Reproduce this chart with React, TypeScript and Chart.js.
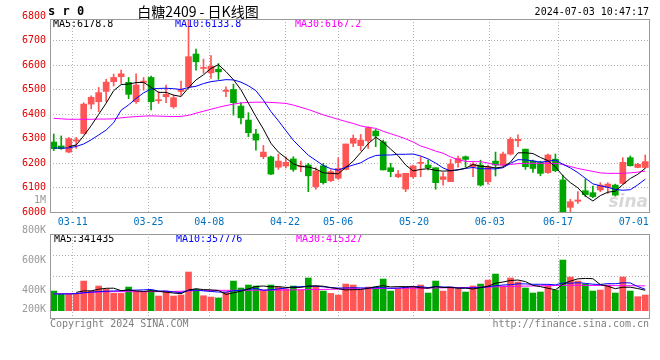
import React, { useEffect, useRef } from 'react';
import { Chart, registerables } from 'chart.js';

Chart.register(...registerables);

// ---------- data ----------
const dates = ['03-06','03-07','03-08','03-11','03-12','03-13','03-14','03-15','03-18','03-19','03-20','03-21','03-22','03-25','03-26','03-27','03-28','03-29','04-01','04-02','04-03','04-08','04-09','04-10','04-11','04-12','04-15','04-16','04-17','04-18','04-19','04-22','04-23','04-24','04-25','04-26','04-29','04-30','05-06','05-07','05-08','05-09','05-10','05-13','05-14','05-15','05-16','05-17','05-20','05-21','05-22','05-23','05-24','05-27','05-28','05-29','05-30','05-31','06-03','06-04','06-05','06-06','06-07','06-11','06-12','06-13','06-14','06-17','06-18','06-19','06-20','06-21','06-24','06-25','06-26','06-27','06-28','07-01','07-02','07-03'];

const opens = [6286,6270,6245,6290,6321,6441,6451,6493,6533,6553, 6530,6451,6530,6550,6455,6471,6430,6493,6512,6646, 6587,6569,6584,6493,6501,6433,6376,6319,6226,6225, 6183,6188,6217,6185,6192,6103,6189,6128,6138,6174, 6281,6271,6291,6331,6287,6181,6144,6094,6144,6199, 6192,6181,6133,6124,6202,6226,6185,6192,6124,6208, 6192,6237,6291,6257,6208,6203,6161,6216,6131,6019, 6044,6087,6079,6090,6101,6110,6117,6222,6182,6182];
const highs = [6319,6311,6305,6305,6447,6475,6509,6542,6564,6580, 6550,6565,6550,6556,6492,6519,6478,6535,6785,6666, 6625,6639,6607,6512,6523,6447,6406,6338,6272,6229, 6236,6226,6226,6208,6199,6181,6199,6172,6222,6278, 6315,6317,6349,6338,6294,6199,6169,6158,6192,6226, 6212,6181,6161,6215,6229,6229,6202,6212,6192,6245, 6245,6305,6315,6257,6212,6208,6237,6237,6151,6052, 6083,6135,6106,6120,6120,6114,6222,6229,6199,6233];
const lows = [6251,6256,6242,6260,6319,6422,6410,6451,6515,6526, 6463,6444,6498,6417,6444,6447,6424,6477,6505,6580, 6567,6546,6542,6471,6396,6360,6308,6253,6218,6153, 6174,6180,6166,6165,6083,6093,6114,6124,6133,6172, 6267,6251,6260,6267,6172,6144,6140,6083,6138,6144, 6172,6093,6110,6124,6183,6183,6144,6106,6114,6147, 6188,6233,6267,6174,6162,6148,6158,6165,5990,5997, 6035,6063,6059,6083,6076,6065,6114,6188,6181,6178];
const closes = [6259,6259,6300,6295,6441,6469,6488,6531,6550,6565, 6481,6519,6535,6451,6458,6481,6467,6501,6635,6614, 6590,6596,6573,6498,6447,6385,6324,6294,6245,6155, 6208,6203,6174,6188,6148,6168,6120,6165,6178,6278, 6301,6294,6345,6311,6172,6165,6155,6158,6188,6202, 6181,6120,6144,6196,6219,6215,6196,6110,6185,6192, 6237,6297,6297,6185,6178,6158,6233,6169,6000,6042, 6049,6071,6063,6110,6114,6069,6203,6189,6195,6206];

const ma5 = [null,null,6267,6274,6311,6353,6399,6445,6496,6521, 6523,6529,6530,6510,6489,6489,6478,6472,6508,6540, 6561,6587,6602,6574,6541,6500,6445,6390,6339,6281, 6245,6221,6197,6186,6184,6176,6160,6158,6156,6182, 6208,6243,6279,6306,6285,6257,6230,6192,6168,6174, 6177,6170,6167,6169,6172,6179,6194,6187,6185,6180, 6184,6204,6242,6242,6239,6223,6210,6185,6148,6120, 6099,6066,6045,6067,6081,6085,6112,6137,6154,6179];
const ma10 = [6262,6261,6262,6268,6278,6295,6315,6335,6365, 6416,6438,6464,6487,6503,6505,6506,6504,6501,6509, 6514,6525,6533,6537,6541,6540,6531,6516,6496,6457, 6411,6373,6333,6293,6262,6232,6211,6190,6177,6171, 6183,6192,6201,6219,6231,6233,6233,6236,6236,6237, 6229,6217,6200,6180,6168,6173,6178,6182,6177,6177, 6176,6181,6199,6214,6213,6209,6204,6207,6213,6195, 6180,6161,6138,6115,6107,6101,6092,6089,6091,6111,6134];
const ma30 = [6383,6381,6379,6379,6379,6379,6380,6380,6381,6385, 6388,6390,6392,6393,6392,6391,6390,6391,6395,6404, 6412,6420,6428,6435,6441,6446,6448,6449,6449,6448, 6446,6444,6437,6428,6419,6408,6397,6388,6379,6370, 6362,6352,6346,6342,6330,6320,6310,6299,6286,6270, 6260,6249,6240,6225,6214,6207,6206,6206,6200,6193, 6192,6194,6198,6199,6199,6199,6199,6199,6194,6186, 6178,6172,6166,6160,6158,6158,6158,6160,6163,6167];

const volumes = [328000,278000,278000,278000,495000,328000,412000,356000,289000,289000, 395000,317000,317000,340000,245000,328000,245000,262000,646000,356000, 250000,228000,212000,312000,495000,379000,429000,412000,345000,429000, 395000,362000,412000,345000,546000,412000,328000,289000,262000,445000, 429000,340000,395000,395000,529000,328000,362000,395000,395000,429000, 295000,495000,328000,395000,362000,312000,412000,445000,512000,612000, 412000,546000,479000,379000,295000,312000,412000,345000,846000,562000, 495000,445000,328000,345000,429000,295000,562000,328000,234000,262000];
const volMa5 = [null,null,null,306000, 331000,331000,358000,374000,376000,335000, 348000,329000,321000,332000,323000,309000,295000,284000,345000,367000, 352000,348000,338000,272000,299000,325000,365000,405000,412000,399000, 402000,389000,389000,389000,412000,415000,409000,384000,367000,347000, 351000,353000,374000,401000,418000,397000,402000,402000,402000,382000, 375000,402000,388000,388000,375000,378000,362000,385000,409000,459000, 479000,505000,512000,486000,422000,402000,375000,349000,442000,495000, 532000,539000,535000,435000,408000,368000,392000,392000,370000,341000];
const volMa10 = [280000,280000,280000,285000,300000,310000,320000,325000,330000, 333000,340000,344000,348000,354000,329000,329000,312000,303000,339000, 345000,331000,322000,311000,309000,333000,339000,357000,372000,342000, 349000,364000,377000,397000,401000,406000,409000,399000,387000,378000, 380000,383000,381000,379000,384000,383000,374000,378000,388000,402000, 400000,386000,402000,395000,395000,379000,377000,382000,387000,399000, 417000,429000,434000,449000,448000,441000,441000,440000,431000,464000, 459000,467000,457000,442000,439000,452000,450000,466000,464000,403000,358000];
const volMa30 = [284000,284000,285000,288000,295000,305000,312000,316000,318000,318000, 318000,318000,318000,318000,319000,320000,322000,325000,330000,335000, 338000,339000,340000,340000,340000,341000,341000,342000,342000,342000, 344000,346000,348000,350000,352000,354000,356000,358000,360000,362000, 364000,366000,368000,370000,372000,373000,374000,375000,376000,376000, 378000,380000,382000,384000,386000,388000,390000,393000,396000,399000, 402000,405000,408000,411000,414000,417000,419000,421000,423000,425000, 424000,423000,422000,421000,420000,419000,418000,417000,416000,415000];

const axisDates = ['03-11','03-25','04-08','04-22','05-06','05-20','06-03','06-17','07-01'];
const gridDates = ['03-11','03-25','04-08','04-22','05-06','05-20','06-03','06-17'];
const priceTicks = [6000,6100,6200,6300,6400,6500,6600,6700,6800];
const volumeTicks = [200000,400000,600000,800000,1000000];

const priceLegend = ['MA5:6178.8', 'MA10:6133.8', 'MA30:6167.2'];
const volumeLegend = ['MA5:341435', 'MA10:357776', 'MA30:415327'];
const symbolText = 's r 0';
const titleText = '白糖2409 - 日K线图';
const timeText = '2024-07-03 10:47:17';
const copyrightText = 'Copyright 2024 SINA.COM';
const urlText = 'http://finance.sina.com.cn';

// ---------- styles ----------
const MONO = '"DejaVu Sans Mono", "Liberation Mono", monospace';
const UP = '#ff5555';
const DOWN = '#00a600';
const GRID = '#b4b4b4';
const FRAME = '#999999';
const LEGEND_COLORS = ['#000000', '#0000ff', '#ff00ff'];
const LEGEND_X = [53, 175, 295];

const candleColors = closes.map((c, i) => (c >= opens[i] ? UP : DOWN));

const volTickLabel = (v: any) => (v >= 1000000 ? `${v / 1000000}M` : `${v / 1000}K`);

const framePlugin = {
  id: 'frame',
  afterDraw(chart: any) {
    const { ctx, chartArea: a } = chart;
    ctx.save();
    ctx.strokeStyle = FRAME;
    ctx.lineWidth = 1;
    const x0 = Math.floor(a.left) + 0.5;
    const x1 = Math.floor(a.right) + 0.5;
    const y0 = Math.floor(a.top) + 0.5;
    const y1 = Math.floor(a.bottom) + 0.5;
    ctx.strokeRect(x0, y0, x1 - x0, y1 - y0);
    ctx.restore();
  },
};

const dateGridColor = (ctx: any) =>
  ctx.index !== undefined && gridDates.includes(dates[ctx.index]) ? GRID : 'rgba(0,0,0,0)';

const priceTextPlugin = {
  id: 'priceText',
  beforeDatasetsDraw(chart: any) {
    const { ctx } = chart;
    ctx.save();
    ctx.font = 'italic bold 17px "DejaVu Sans", sans-serif';
    ctx.fillStyle = 'rgba(200,200,200,0.7)';
    ctx.textAlign = 'right';
    ctx.textBaseline = 'alphabetic';
    ctx.fillText('sina', 648, 207);
    ctx.restore();
  },
  afterDraw(chart: any) {
    const { ctx } = chart;
    ctx.save();
    ctx.textBaseline = 'middle';
    ctx.fillStyle = '#000';
    ctx.textAlign = 'left';
    ctx.font = `bold 12px ${MONO}`;
    ctx.fillText(symbolText, 48, 12);
    ctx.font = '14px "Noto Sans CJK SC", sans-serif';
    ctx.textAlign = 'center';
    ctx.fillText(titleText, 198, 12);
    ctx.font = `10px ${MONO}`;
    ctx.textAlign = 'right';
    ctx.fillText(timeText, 649, 12);
    ctx.textAlign = 'left';
    priceLegend.forEach((t, i) => {
      ctx.fillStyle = LEGEND_COLORS[i];
      ctx.fillText(t, LEGEND_X[i], 24);
    });
    ctx.restore();
  },
};

const volumeTextPlugin = {
  id: 'volumeText',
  afterDraw(chart: any) {
    const { ctx } = chart;
    ctx.save();
    ctx.textBaseline = 'middle';
    ctx.font = `10px ${MONO}`;
    ctx.textAlign = 'left';
    volumeLegend.forEach((t, i) => {
      ctx.fillStyle = LEGEND_COLORS[i];
      ctx.fillText(t, LEGEND_X[i] + 1, 239);
    });
    ctx.fillStyle = '#808080';
    ctx.fillText(copyrightText, 50, 324);
    ctx.textAlign = 'right';
    ctx.fillText(urlText, 649, 324);
    ctx.restore();
  },
};

function lineDs(data: (number | null)[], color: string, yAxisID: string) {
  return {
    type: 'line' as const,
    data,
    borderColor: color,
    borderWidth: 1,
    pointRadius: 0,
    tension: 0,
    fill: false,
    xAxisID: 'x',
    yAxisID,
    order: 0,
  };
}

function priceConfig(): any {
  return {
    type: 'bar',
    data: {
      labels: dates,
      datasets: [
        {
          type: 'bar',
          data: lows.map((l, i) => [l, highs[i]]),
          backgroundColor: candleColors,
          barThickness: 1,
          grouped: false,
          borderWidth: 0,
          xAxisID: 'x',
          yAxisID: 'y',
          order: 2,
        },
        {
          type: 'bar',
          data: opens.map((o, i) => [o, closes[i]]),
          backgroundColor: candleColors,
          barThickness: 6,
          minBarLength: 1,
          grouped: false,
          borderWidth: 0,
          xAxisID: 'x',
          yAxisID: 'y',
          order: 1,
        },
        lineDs(ma5, '#000000', 'y'),
        lineDs(ma10, '#0000ff', 'y'),
        lineDs(ma30, '#ff00ff', 'y'),
      ],
    },
    options: {
      responsive: false,
      animation: false,
      devicePixelRatio: 1,
      events: [],
      layout: { autoPadding: false, padding: { top: 19, right: 11, bottom: 130, left: 0 } },
      plugins: { legend: { display: false }, tooltip: { enabled: false } },
      scales: {
        x: { type: 'category', offset: true, display: false, grid: { offset: true, display: false } },
        xg: {
          type: 'category',
          position: 'bottom',
          labels: dates,
          offset: false,
          afterFit: (s: any) => { s.height = 18; },
          grid: { offset: false, color: dateGridColor, drawTicks: false, lineWidth: 1 },
          border: { display: false, dash: [1, 2] },
          ticks: {
            autoSkip: false,
            maxRotation: 0,
            minRotation: 0,
            padding: 4,
            color: '#0070c0',
            font: { family: MONO, size: 10 },
            callback: (_v: any, i: number) => (axisDates.includes(dates[i]) ? dates[i] : ''),
          },
        },
        y: {
          type: 'linear',
          position: 'left',
          min: 6000,
          max: 6789,
          afterBuildTicks: (s: any) => { s.ticks = priceTicks.map((v) => ({ value: v })); },
          afterFit: (s: any) => { s.width = 50; },
          grid: {
            color: (ctx: any) => (ctx.tick && ctx.tick.value > 6000 && ctx.tick.value < 6789 ? GRID : 'rgba(0,0,0,0)'),
            drawTicks: false,
            lineWidth: 1,
          },
          border: { display: false, dash: [1, 2] },
          ticks: {
            autoSkip: false,
            padding: 4,
            color: '#e00000',
            font: { family: MONO, size: 10 },
            callback: (v: any) => String(v),
          },
        },
      },
    },
    plugins: [priceTextPlugin, framePlugin],
  };
}

function volumeConfig(): any {
  return {
    type: 'bar',
    data: {
      labels: dates,
      datasets: [
        {
          type: 'bar',
          data: volumes,
          backgroundColor: candleColors,
          barThickness: 6,
          grouped: false,
          borderWidth: 0,
          xAxisID: 'x',
          yAxisID: 'yv',
          order: 1,
        },
        lineDs(volMa5, '#000000', 'yv'),
        lineDs(volMa10, '#0000ff', 'yv'),
        lineDs(volMa30, '#ff00ff', 'yv'),
      ],
    },
    options: {
      responsive: false,
      animation: false,
      devicePixelRatio: 1,
      events: [],
      layout: { autoPadding: false, padding: { top: 234, right: 11, bottom: 42, left: 0 } },
      plugins: { legend: { display: false }, tooltip: { enabled: false } },
      scales: {
        x: { type: 'category', offset: true, display: false, grid: { offset: true, display: false } },
        xg: {
          type: 'category',
          position: 'bottom',
          labels: dates,
          offset: false,
          afterFit: (s: any) => { s.height = 0; },
          grid: { offset: false, color: dateGridColor, drawTicks: false, lineWidth: 1 },
          border: { display: false, dash: [1, 2] },
          ticks: { display: false },
        },
        yv: {
          type: 'linear',
          position: 'left',
          weight: 0,
          min: -122000,
          max: 1281000,
          afterBuildTicks: (s: any) => {
            s.ticks = [1, 2, 3].map((k) => ({ value: s.min + ((s.max - s.min) * k) / 4 }));
          },
          afterFit: (s: any) => { s.width = 0; },
          grid: { color: GRID, drawTicks: false, lineWidth: 1 },
          border: { display: false, dash: [1, 2] },
          ticks: { display: false },
        },
        // label axis for the upper volume labels (400K .. 1M)
        yl: {
          type: 'linear',
          position: 'left',
          weight: 2,
          min: 213333,
          max: 773333,
          afterBuildTicks: (s: any) => { s.ticks = volumeTicks.slice(1).map((v) => ({ value: v })); },
          afterFit: (s: any) => { s.width = 50; },
          grid: { display: false, drawTicks: false },
          border: { display: false },
          ticks: {
            autoSkip: false,
            padding: 4,
            color: '#999999',
            font: { family: MONO, size: 10 },
            callback: volTickLabel,
          },
        },
        // label axis for the floor label (200K), which sits on the panel floor
        yl2: {
          type: 'linear',
          position: 'left',
          weight: 1,
          min: 100000,
          max: 1088000,
          afterBuildTicks: (s: any) => { s.ticks = volumeTicks.slice(0, 1).map((v) => ({ value: v })); },
          afterFit: (s: any) => { s.width = 0; },
          grid: { display: false, drawTicks: false },
          border: { display: false },
          ticks: {
            autoSkip: false,
            mirror: true,
            crossAlign: 'far',
            padding: -28,
            color: '#999999',
            font: { family: MONO, size: 10 },
            callback: volTickLabel,
          },
        },
      },
    },
    plugins: [volumeTextPlugin, framePlugin],
  };
}

export default function App() {
  const priceRef = useRef<HTMLCanvasElement>(null);
  const volRef = useRef<HTMLCanvasElement>(null);

  useEffect(() => {
    const c1 = new Chart(priceRef.current as HTMLCanvasElement, priceConfig());
    const c2 = new Chart(volRef.current as HTMLCanvasElement, volumeConfig());
    return () => {
      c1.destroy();
      c2.destroy();
    };
  }, []);

  return (
    <div style={{ position: 'fixed', left: 0, top: 0, width: 660, height: 360, background: '#ffffff' }}>
      <canvas ref={priceRef} width={660} height={360} style={{ position: 'absolute', left: 0, top: 0 }} />
      <canvas ref={volRef} width={660} height={360} style={{ position: 'absolute', left: 0, top: 0, pointerEvents: 'none' }} />
    </div>
  );
}
